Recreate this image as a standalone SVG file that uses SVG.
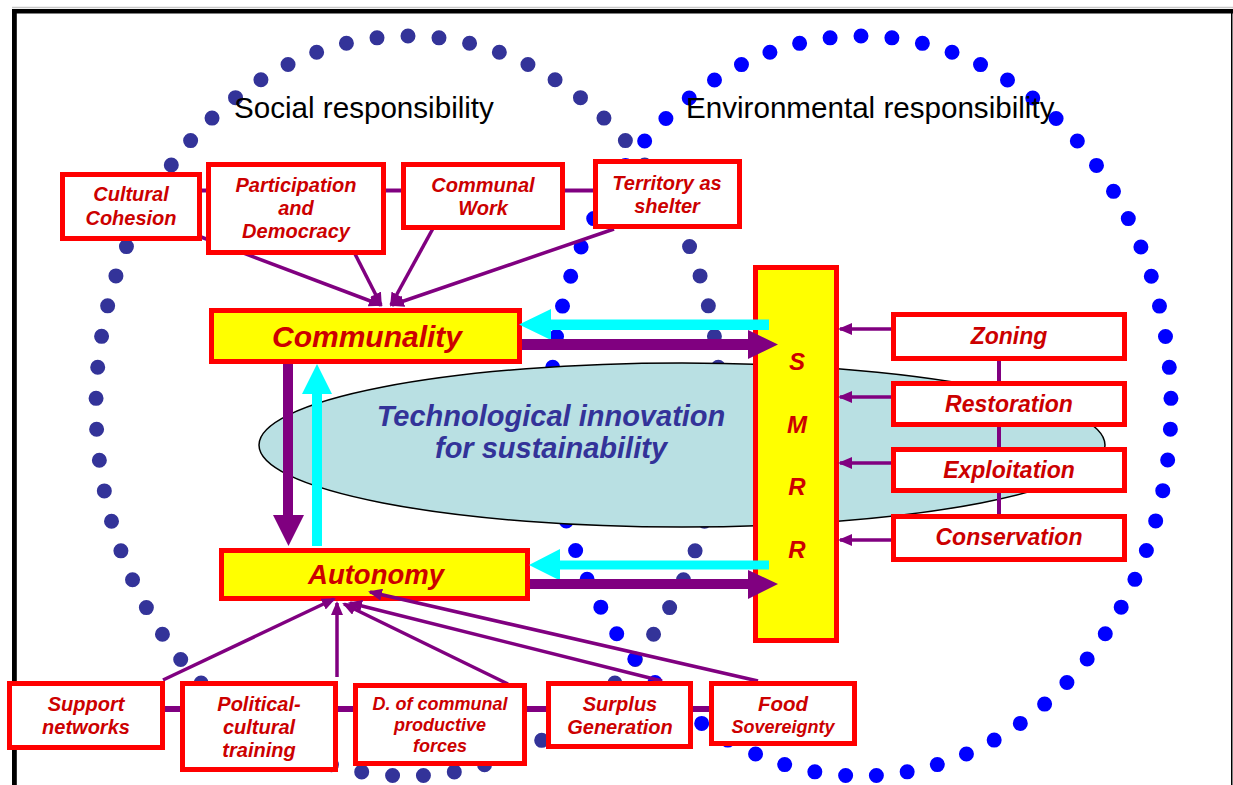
<svg xmlns="http://www.w3.org/2000/svg" width="1233" height="785" viewBox="0 0 1233 785">
  <defs>
    <style>
      .box { fill: #ffffff; stroke: #ff0000; stroke-width: 5; }
      .ybox { fill: #ffff00; stroke: #ff0000; stroke-width: 5; }
      .lbl { font-family: "Liberation Sans", Arial, sans-serif; font-weight: bold; font-style: italic; fill: #cc0000; text-anchor: middle; }
      .head { font-family: "Liberation Sans", Arial, sans-serif; font-size: 29.6px; fill: #000000; }
      .link { stroke: #800080; stroke-width: 4; fill: none; }
      .blink { stroke: #800080; stroke-width: 6; fill: none; }
      .arr { stroke: #800080; stroke-width: 3.5; fill: none; marker-end: url(#ah); }
      .dots { fill: none; stroke-width: 15; stroke-linecap: round; stroke-dasharray: 0 1; }
    </style>
    <marker id="ah" markerUnits="userSpaceOnUse" viewBox="0 0 14 12" markerWidth="14" markerHeight="12" refX="12" refY="6" orient="auto">
      <path d="M0,0 L14,6 L0,12 z" fill="#800080"/>
    </marker>
  </defs>

  <!-- page frame -->
  <g id="frame">
    <line x1="12" y1="7.5" x2="1233" y2="7.5" stroke="#c8c8c8" stroke-width="1.5"/>
    <rect x="12" y="9" width="1221" height="4.5" fill="#000000"/>
    <rect x="12" y="9" width="4.8" height="776" fill="#000000"/>
    <rect x="1231" y="9" width="1.5" height="776" fill="#000000"/>
  </g>

  <!-- dotted responsibility rings -->
  <g id="rings">
    <path class="dots" stroke="#333399" pathLength="69" d="M408,36 A312,370 0 0 1 408,776 A312,370 0 0 1 408,36 Z"/>
    <path class="dots" stroke="#0000ff" pathLength="69" d="M861,36 A310,370 0 0 1 861,776 A310,370 0 0 1 861,36 Z"/>
  </g>

  <g id="headings">
    <text class="head" x="234" y="118">Social responsibility</text>
    <text class="head" x="686" y="118">Environmental responsibility</text>
  </g>

  <!-- central innovation ellipse -->
  <g id="innovation">
    <ellipse cx="682" cy="445" rx="423" ry="82" fill="#b9e0e3" stroke="#000000" stroke-width="1.5"/>
    <text class="lbl" style="fill:#333399" font-size="29" x="551" y="426">Technological innovation</text>
    <text class="lbl" style="fill:#333399" font-size="29" x="551" y="458">for sustainability</text>
  </g>

  <g id="communality">
    <rect class="ybox" x="211.5" y="310.5" width="308" height="51"/>
    <text class="lbl" font-size="30" x="367" y="347">Communality</text>
  </g>

  <g id="autonomy">
    <rect class="ybox" x="221.5" y="550.5" width="306" height="48"/>
    <text class="lbl" font-size="27.5" x="376" y="584">Autonomy</text>
  </g>

  <g id="smrr">
    <rect class="ybox" x="755.5" y="267.5" width="81" height="373"/>
    <text class="lbl" font-size="24" x="797" y="370">S</text>
    <text class="lbl" font-size="24" x="797" y="433">M</text>
    <text class="lbl" font-size="24" x="797" y="495">R</text>
    <text class="lbl" font-size="24" x="797" y="558">R</text>
  </g>

  <g id="connectors">
    <!-- links between neighbouring boxes -->
    <line class="link" x1="200" y1="190.5" x2="208" y2="190.5"/>
    <line class="link" x1="384" y1="190.5" x2="403" y2="190.5"/>
    <line class="link" x1="563" y1="190.5" x2="595" y2="190.5"/>
    <line class="link" x1="999" y1="359" x2="999" y2="516"/>
    <line class="blink" x1="163" y1="709" x2="182" y2="709"/>
    <line class="blink" x1="336" y1="709" x2="355" y2="709"/>
    <line class="blink" x1="525" y1="709" x2="548" y2="709"/>
    <line class="blink" x1="691" y1="709" x2="711" y2="709"/>

    <!-- inputs to Communality -->
    <line class="arr" x1="201" y1="237" x2="381" y2="305"/>
    <line class="arr" x1="355" y1="254" x2="381" y2="305"/>
    <line class="arr" x1="442" y1="212" x2="391" y2="305"/>
    <line class="arr" x1="614" y1="229" x2="392" y2="305"/>

    <!-- inputs to Autonomy -->
    <line class="arr" x1="163" y1="680" x2="334" y2="599"/>
    <line class="arr" x1="337" y1="677" x2="337" y2="603"/>
    <line class="arr" x1="508" y1="684" x2="344" y2="604"/>
    <line class="arr" x1="662" y1="681" x2="350" y2="603"/>
    <line class="arr" x1="758" y1="681" x2="370" y2="592"/>

    <!-- inputs to SMRR -->
    <line class="arr" x1="892" y1="329" x2="840" y2="329"/>
    <line class="arr" x1="892" y1="397" x2="840" y2="397"/>
    <line class="arr" x1="892" y1="463" x2="840" y2="463"/>
    <line class="arr" x1="892" y1="540" x2="840" y2="540"/>

    <!-- block arrows -->
    <polygon fill="#00ffff" points="769,319.5 551,319.5 551,309 519,324.5 551,340 551,330 769,330"/>
    <polygon fill="#800080" points="522,339 748,339 748,330 778,344.5 748,359 748,350 522,350"/>
    <polygon fill="#00ffff" points="769,560.5 560,560.5 560,549 529,565 560,580.5 560,569.5 769,569.5"/>
    <polygon fill="#800080" points="530,579 748,579 748,570 778,584 748,599 748,589 530,589"/>
    <polygon fill="#800080" points="283,364 293,364 293,515 304,515 288.5,546 273,515 283,515"/>
    <polygon fill="#00ffff" points="312,546 322,546 322,394 332,394 317,364 302,394 312,394"/>
  </g>

  <g id="cultural-cohesion">
    <rect class="box" x="62.5" y="174.5" width="137" height="64"/>
    <text class="lbl" font-size="20" x="131" y="201">Cultural</text>
    <text class="lbl" font-size="20" x="131" y="225">Cohesion</text>
  </g>

  <g id="participation">
    <rect class="box" x="208.5" y="164.5" width="175" height="88"/>
    <text class="lbl" font-size="20" x="296" y="192">Participation</text>
    <text class="lbl" font-size="20" x="296" y="215">and</text>
    <text class="lbl" font-size="20" x="296" y="238">Democracy</text>
  </g>

  <g id="communal-work">
    <rect class="box" x="403.5" y="164.5" width="159" height="63"/>
    <text class="lbl" font-size="20" x="483" y="192">Communal</text>
    <text class="lbl" font-size="20" x="483" y="215">Work</text>
  </g>

  <g id="territory">
    <rect class="box" x="595.5" y="161.5" width="144" height="65"/>
    <text class="lbl" font-size="20" x="667" y="190">Territory as</text>
    <text class="lbl" font-size="20" x="667" y="213">shelter</text>
  </g>

  <g id="zoning">
    <rect class="box" x="893.5" y="314.5" width="231" height="44"/>
    <text class="lbl" font-size="23" x="1009" y="344">Zoning</text>
  </g>

  <g id="restoration">
    <rect class="box" x="893.5" y="383.5" width="231" height="41"/>
    <text class="lbl" font-size="23" x="1009" y="412">Restoration</text>
  </g>

  <g id="exploitation">
    <rect class="box" x="893.5" y="449.5" width="231" height="41"/>
    <text class="lbl" font-size="23" x="1009" y="478">Exploitation</text>
  </g>

  <g id="conservation">
    <rect class="box" x="893.5" y="516.5" width="231" height="43"/>
    <text class="lbl" font-size="23" x="1009" y="545">Conservation</text>
  </g>

  <g id="support-networks">
    <rect class="box" x="9.5" y="683.5" width="153" height="64"/>
    <text class="lbl" font-size="20" x="86" y="711">Support</text>
    <text class="lbl" font-size="20" x="86" y="734">networks</text>
  </g>

  <g id="political-training">
    <rect class="box" x="182.5" y="683.5" width="153" height="86"/>
    <text class="lbl" font-size="20" x="259" y="711">Political-</text>
    <text class="lbl" font-size="20" x="259" y="734">cultural</text>
    <text class="lbl" font-size="20" x="259" y="757">training</text>
  </g>

  <g id="productive-forces">
    <rect class="box" x="355.5" y="685.5" width="169" height="78"/>
    <text class="lbl" font-size="18" x="440" y="710">D. of communal</text>
    <text class="lbl" font-size="18" x="440" y="731">productive</text>
    <text class="lbl" font-size="18" x="440" y="752">forces</text>
  </g>

  <g id="surplus">
    <rect class="box" x="548.5" y="683.5" width="142" height="63"/>
    <text class="lbl" font-size="20" x="620" y="711">Surplus</text>
    <text class="lbl" font-size="20" x="620" y="734">Generation</text>
  </g>

  <g id="food-sovereignty">
    <rect class="box" x="711.5" y="683.5" width="143" height="60"/>
    <text class="lbl" font-size="20.5" x="783" y="711">Food</text>
    <text class="lbl" font-size="18" x="783" y="733">Sovereignty</text>
  </g>
</svg>
